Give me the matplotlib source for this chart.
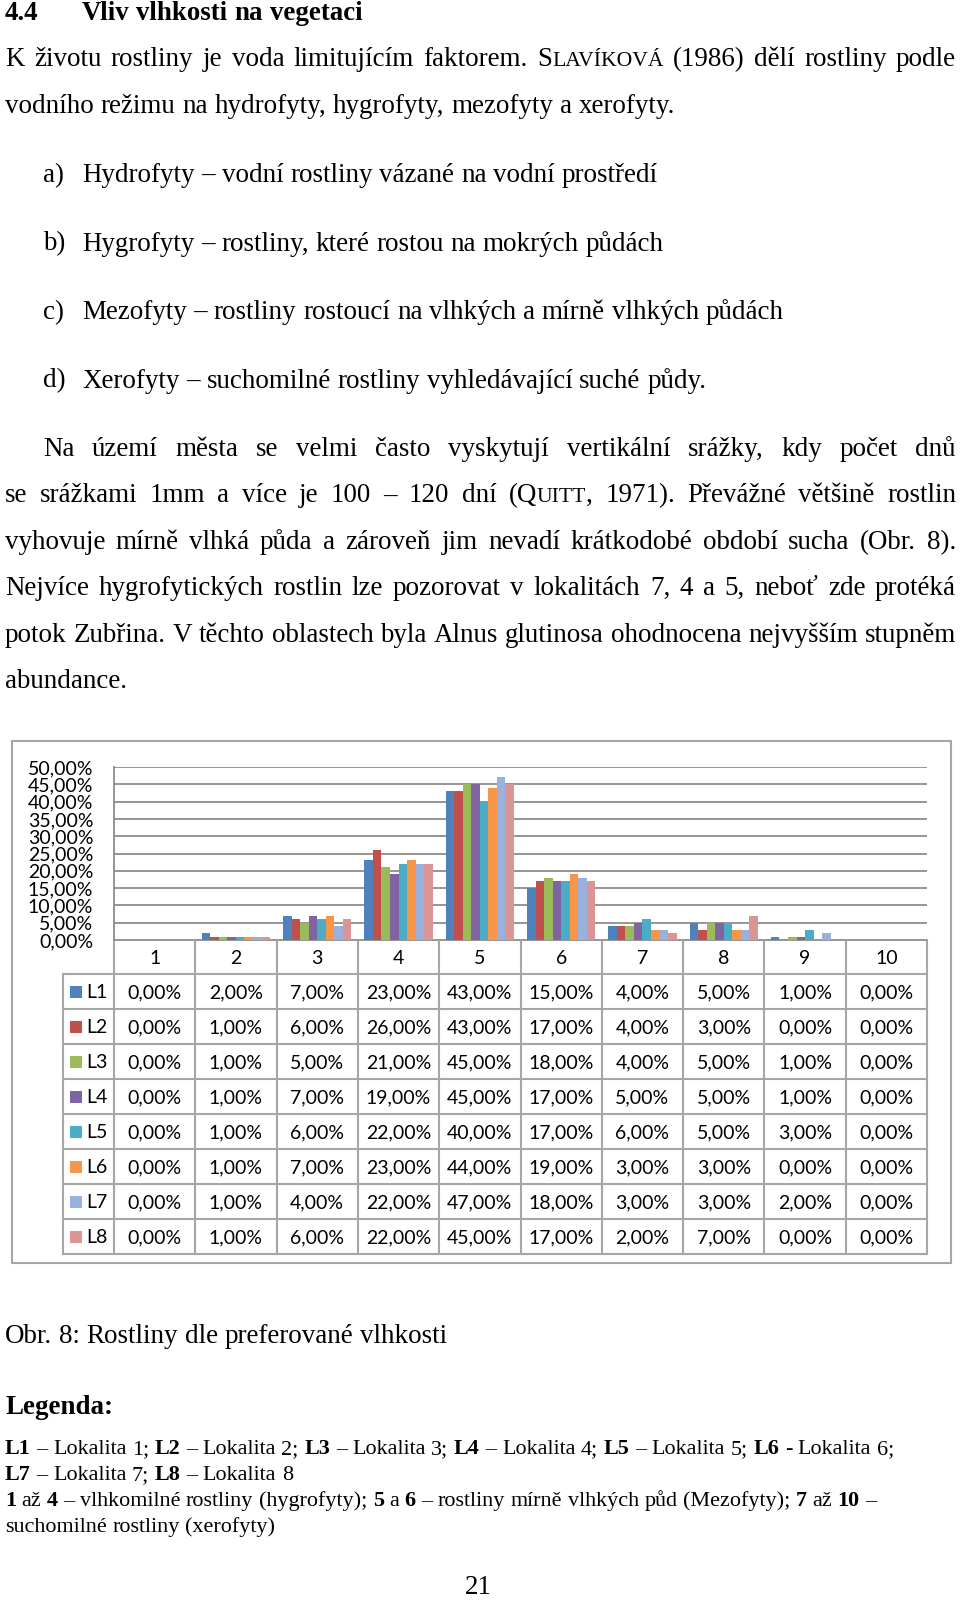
import matplotlib
matplotlib.use("Agg")
import matplotlib.pyplot as plt
from matplotlib.ticker import FuncFormatter
from matplotlib.patches import Rectangle

# data (percent of plants per moisture class, per locality)
categories = [1, 2, 3, 4, 5, 6, 7, 8, 9, 10]
series_names = ["L1", "L2", "L3", "L4", "L5", "L6", "L7", "L8"]
L1 = [0, 2, 7, 23, 43, 15, 4, 5, 1, 0]
L2 = [0, 1, 6, 26, 43, 17, 4, 3, 0, 0]
L3 = [0, 1, 5, 21, 45, 18, 4, 5, 1, 0]
L4 = [0, 1, 7, 19, 45, 17, 5, 5, 1, 0]
L5 = [0, 1, 6, 22, 40, 17, 6, 5, 3, 0]
L6 = [0, 1, 7, 23, 44, 19, 3, 3, 0, 0]
L7 = [0, 1, 4, 22, 47, 18, 3, 3, 2, 0]
L8 = [0, 1, 6, 22, 45, 17, 2, 7, 0, 0]
series_values = [L1, L2, L3, L4, L5, L6, L7, L8]
series_colors = ["#4F81BD", "#C0504D", "#9BBB59", "#8064A2",
                 "#4BACC6", "#F79646", "#9BB1DD", "#DA9694"]
y_ticks = [0, 5, 10, 15, 20, 25, 30, 35, 40, 45, 50]

heading_num = "4.4"
heading = "Vliv vlhkosti na vegetaci"
intro_lines = [
    "K životu rostliny je voda limitujícím faktorem. S{LAVÍKOVÁ} (1986) dělí rostliny podle",
    "vodního režimu na hydrofyty, hygrofyty, mezofyty a xerofyty.",
]
list_labels = ["a)", "b)", "c)", "d)"]
list_items = [
    "Hydrofyty – vodní rostliny vázané na vodní prostředí",
    "Hygrofyty – rostliny, které rostou na mokrých půdách",
    "Mezofyty – rostliny rostoucí na vlhkých a mírně vlhkých půdách",
    "Xerofyty – suchomilné rostliny vyhledávající suché půdy.",
]
para_lines = [
    "Na území města se velmi často vyskytují vertikální srážky, kdy počet dnů",
    "se srážkami 1mm a více je 100 – 120 dní (Q{UITT}, 1971).  Převážné většině rostlin",
    "vyhovuje mírně vlhká půda a zároveň jim nevadí krátkodobé období sucha (Obr. 8).",
    "Nejvíce hygrofytických rostlin lze pozorovat v lokalitách 7, 4 a 5, neboť zde protéká",
    "potok Zubřina. V těchto oblastech byla Alnus glutinosa ohodnocena nejvyšším stupněm",
    "abundance.",
]
caption = "Obr. 8: Rostliny dle preferované vlhkosti"
legend_title = "*Legenda:*"
legend_lines = [
    "*L1* – Lokalita 1; *L2* – Lokalita 2; *L3* – Lokalita 3; *L4* – Lokalita 4; *L5* – Lokalita 5; *L6* - Lokalita 6;",
    "*L7* – Lokalita 7; *L8* – Lokalita 8",
    "*1* až *4* – vlhkomilné rostliny (hygrofyty); *5* a *6* – rostliny mírně vlhkých půd (Mezofyty); *7* až *10* –",
    "suchomilné rostliny (xerofyty)",
]
page_number = "21"

W, H = 960, 1601
SERIF = ["Liberation Serif", "DejaVu Serif"]
SANS = ["Lato", "DejaVu Sans"]
CHART_FS = 14

fig = plt.figure(figsize=(W / 100, H / 100), dpi=100)
page = fig.add_axes([0, 0, 1, 1])
page.set_xlim(0, W)
page.set_ylim(H, 0)
page.axis("off")
renderer = fig.canvas.get_renderer()


def parse(line):
    # *bold*, {small caps}
    segs, buf, bold, small = [], "", False, False
    for ch in line:
        if ch in "*{}":
            if buf:
                segs.append((buf, bold, small))
            buf = ""
            if ch == "*":
                bold = not bold
            else:
                small = ch == "{"
        else:
            buf += ch
    if buf:
        segs.append((buf, bold, small))
    words = [[]]
    for text, b, s in segs:
        for i, part in enumerate(text.split(" ")):
            if i > 0:
                words.append([])
            if part:
                words[-1].append((part, b, s))
    return [w for w in words if w]


def make_text(s, x, y, size, bold=False, small=False):
    return page.text(x, y, s, fontsize=size * (0.8 if small else 1.0),
                     fontweight="bold" if bold else "normal",
                     family=SERIF, va="baseline", ha="left", color="black")


def space_width(size):
    a = make_text("n n", 0, 0, size)
    b = make_text("nn", 0, 0, size)
    w = a.get_window_extent(renderer).width - b.get_window_extent(renderer).width
    a.remove()
    b.remove()
    return w


def draw_line(line, x0, y, size, x1=None):
    words = parse(line)
    placed = []
    for word in words:
        pieces = []
        for part, b, s in word:
            t = make_text(part, 0, y, size, b, s)
            pieces.append((t, t.get_window_extent(renderer).width))
        placed.append(pieces)
    widths = [sum(w for _, w in p) for p in placed]
    sp = space_width(size)
    if x1 is not None and len(words) > 1:
        sp = (x1 - x0 - sum(widths)) / (len(words) - 1)
    x = x0
    for pieces in placed:
        for t, w in pieces:
            t.set_x(x)
            x += w
        x += sp
    return placed, x - sp - x0


def fit_size(line, target, ref=10):
    placed, w = draw_line(line, 0, 0, ref)
    for p in placed:
        for t, _ in p:
            t.remove()
    return ref * target / w


body = fit_size(intro_lines[1], 672)
small_size = fit_size(legend_lines[1], 289)
head_size = fit_size("*" + heading + "*", 281)

# heading and text
draw_line("*" + heading_num + "*", 5, 20, head_size)
draw_line("*" + heading + "*", 82, 20, head_size)
draw_line(intro_lines[0], 5, 66, body, 956)
draw_line(intro_lines[1], 5, 113, body)
for i, (lab, item) in enumerate(zip(list_labels, list_items)):
    y = 182 + i * 68.5
    draw_line(lab, 43, y, body)
    draw_line(item, 82, y, body)
for i, line in enumerate(para_lines):
    y = 456 + i * 46.4
    x0 = 43 if i == 0 else 5
    x1 = None if i == len(para_lines) - 1 else 956
    draw_line(line, x0, y, body, x1)
draw_line(caption, 5, 1343, body)
draw_line(legend_title, 5, 1414, body)
for i, line in enumerate(legend_lines):
    draw_line(line, 5, 1454 + i * 26, small_size)
page.text(478, 1600, page_number, fontsize=body, family=SERIF,
          ha="center", va="bottom")

# chart frame
page.add_patch(Rectangle((12, 741), 939, 522, fill=False,
                         edgecolor="#A6A6A6", lw=1.5))

# bar chart
x_left, x_right, y_top, y_zero = 114, 927, 767, 940
ax = fig.add_axes([x_left / W, 1 - y_zero / H, (x_right - x_left) / W,
                   (y_zero - y_top) / H])
n = len(series_names)
group = 0.84
bw = group / n
for i, (vals, col) in enumerate(zip(series_values, series_colors)):
    xs = [c + (i - (n - 1) / 2) * bw for c in categories]
    ax.bar(xs, vals, width=bw, color=col, linewidth=0, zorder=3)


def pct(v):
    return f"{v:.2f}".replace(".", ",") + "%"


ax.set_xlim(0.5, 10.5)
ax.set_ylim(0, 50)
ax.set_yticks(y_ticks)
ax.yaxis.set_major_formatter(FuncFormatter(lambda v, _: pct(v)))
ax.set_xticks([])
ax.tick_params(axis="y", length=0, pad=15, labelsize=CHART_FS)
for lab in ax.get_yticklabels():
    lab.set_family(SANS)
ax.grid(axis="y", color="#8C8C8C", lw=1.3, zorder=0)
for s in ["top", "right", "bottom"]:
    ax.spines[s].set_visible(False)
ax.spines["left"].set_color("#8C8C8C")
ax.spines["left"].set_linewidth(1.3)

# data table under the chart
tcol = "#A6A6A6"
col_w = (x_right - x_left) / len(categories)
head_bottom = 974
row_h = 35
t_bottom = head_bottom + row_h * n
page.plot([x_left, x_right], [y_zero, y_zero], color="#8C8C8C", lw=1.3)
for k in range(len(categories) + 1):
    x = x_left + k * col_w
    page.plot([x, x], [y_zero, t_bottom], color=tcol, lw=1.5)
page.plot([63, 63], [head_bottom, t_bottom], color=tcol, lw=1.5)
for r in range(n + 1):
    y = head_bottom + r * row_h
    page.plot([63, x_right], [y, y], color=tcol, lw=1.5)
for k, c in enumerate(categories):
    page.text(x_left + (k + 0.5) * col_w, (y_zero + head_bottom) / 2 + 1, str(c),
              fontsize=CHART_FS, family=SANS, ha="center", va="center")
for r, (name, vals, col) in enumerate(zip(series_names, series_values, series_colors)):
    yc = head_bottom + (r + 0.5) * row_h
    page.add_patch(Rectangle((70, yc - 6), 12, 12, color=col, lw=0))
    page.text(86, yc + 1, name, fontsize=CHART_FS, family=SANS, ha="left", va="center")
    for k, v in enumerate(vals):
        page.text(x_left + (k + 0.5) * col_w, yc + 1, pct(v), fontsize=CHART_FS,
                  family=SANS, ha="center", va="center")

fig.savefig("out.png", dpi=100)
